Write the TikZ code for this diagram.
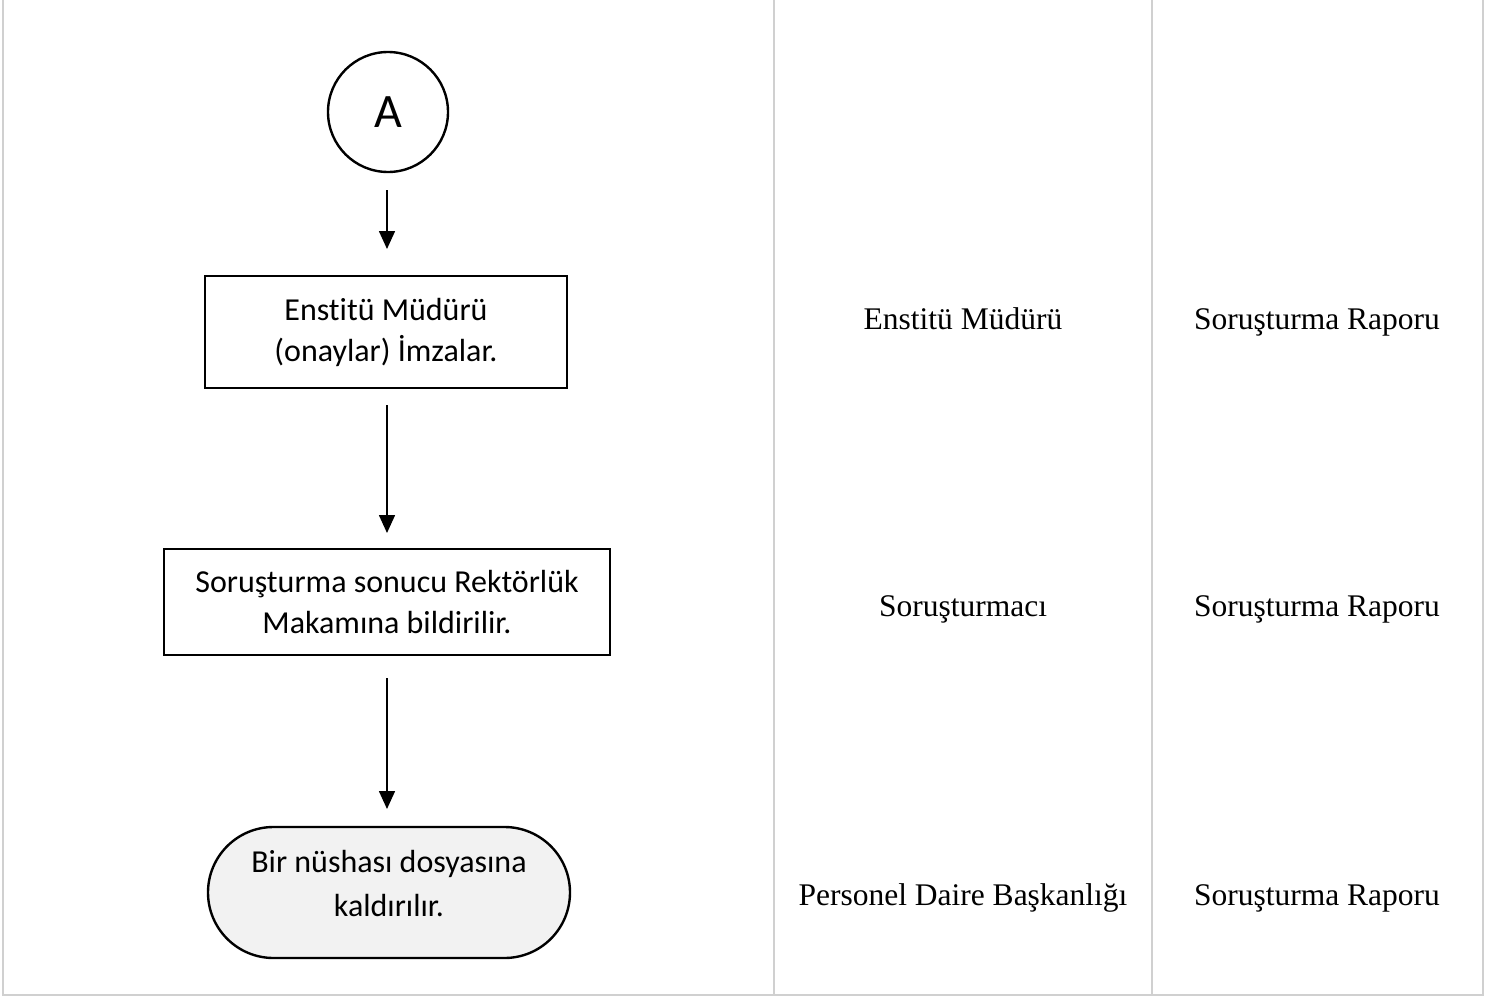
\documentclass[tikz,border=0pt]{standalone}
\usepackage{fontspec}
\setmainfont{Liberation Serif}
\newfontfamily\calib[Ligatures=NoCommon]{Carlito}
\usetikzlibrary{arrows.meta,shapes.misc,calc}
\definecolor{gridgrey}{HTML}{D0D0D0}
\definecolor{termfill}{HTML}{F2F2F2}
\tikzset{
  x=1pt,y=-1pt,
  gridline/.style={draw=gridgrey,line width=2pt},
  procbox/.style={draw=black,line width=2.4pt,rectangle,align=center,font=\calib\fontsize{32}{41}\selectfont,inner sep=0pt},
  termbox/.style={draw=black,line width=2.4pt,rounded rectangle,fill=termfill,inner sep=0pt},
  termtext/.style={align=center,font=\calib\fontsize{32}{44}\selectfont,inner sep=0pt},
  conn/.style={circle,draw=black,line width=2.4pt,font=\calib\fontsize{48}{50}\selectfont,minimum size=120pt,inner sep=0pt},
  flow/.style={draw=black,line width=1.6pt,-{Triangle[width=16pt,length=18pt]}},
  celltext/.style={font=\fontsize{31.5}{34}\selectfont,anchor=base}
}
\begin{document}
\begin{tikzpicture}
\useasboundingbox (0,0) rectangle (1502,998);
% grid
\draw[gridline] (3,0) -- (3,995) -- (1483,995) -- (1483,0);
\draw[gridline] (774,0) -- (774,995);
\draw[gridline] (1152,0) -- (1152,995);
% flow
\node[conn] (a) at (388,112) {A};
\node[procbox,minimum width=362pt,minimum height=112pt] (b1) at (386,332) {Enstitü Müdürü\\(onaylar) İmzalar.};
\node[procbox,minimum width=446pt,minimum height=106pt] (b2) at (387,602) {Soruşturma sonucu Rektörlük\\Makamına bildirilir.};
\node[termbox,minimum width=362pt,minimum height=131pt] (t) at (389,892.5) {};
\node[termtext] (ttext) at ($(t.center)+(0,-9)$) {Bir nüshası dosyasına\\kaldırılır.};
\coordinate (a1s) at (387,190);
\coordinate (a1e) at (387,249);
\coordinate (a2s) at (387,405);
\coordinate (a2e) at (387,533);
\coordinate (a3s) at (387,678);
\coordinate (a3e) at (387,809);
\draw[flow] (a1s) -- (a1e);
\draw[flow] (a2s) -- (a2e);
\draw[flow] (a3s) -- (a3e);
% table texts
\node[celltext] (r1c1) at (963,329) {Enstitü Müdürü};
\node[celltext] (r1c2) at (1317,329) {Soruşturma Raporu};
\node[celltext] (r2c1) at (963,616) {Soruşturmacı};
\node[celltext] (r2c2) at (1317,616) {Soruşturma Raporu};
\node[celltext] (r3c1) at (963,905) {Personel Daire Başkanlığı};
\node[celltext] (r3c2) at (1317,905) {Soruşturma Raporu};
\end{tikzpicture}
\end{document}
